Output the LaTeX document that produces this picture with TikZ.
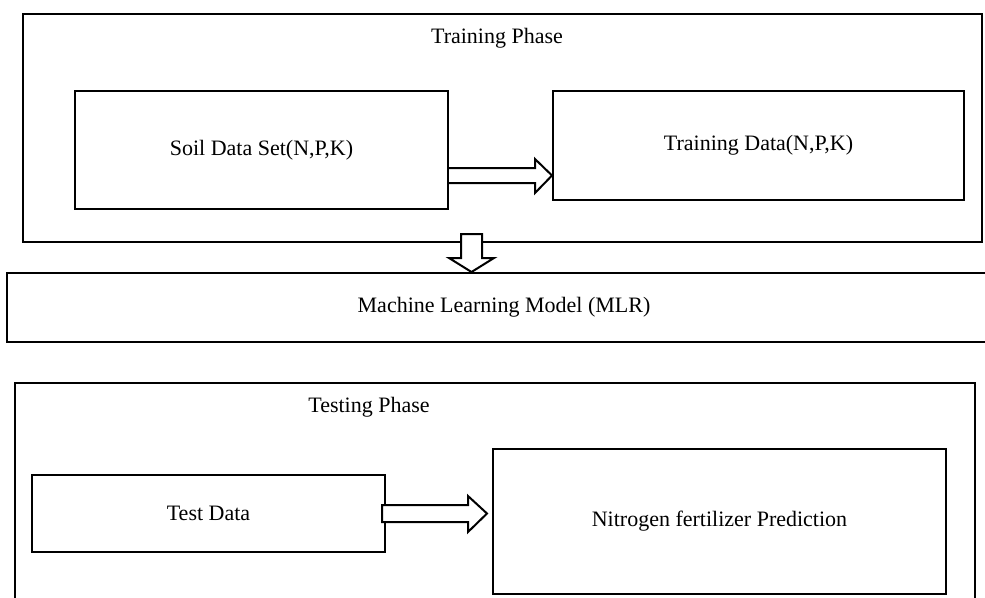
\documentclass[tikz,border=0pt]{standalone}
\usepackage{fontspec}
\setmainfont{Liberation Serif}
\usetikzlibrary{calc}
\begin{document}
\begin{tikzpicture}[x=1pt,y=-1pt,
  box/.style={draw=black, line width=2pt, rectangle, inner sep=0pt, anchor=north west,
              font=\fontsize{22}{26}\selectfont},
  label/.style={inner sep=0pt, font=\fontsize{22}{26}\selectfont},
  fat/.style={draw=black, line width=2pt, fill=white, line join=miter}]
\useasboundingbox (0,0) rectangle (985,597);
\clip (0,0) rectangle (985,597);

% Training phase
\node[box, minimum width=959pt, minimum height=228pt] (trainphase) at (22,13) {};
\node[label] (traintitle) at (497,38) {Training Phase};
\node[box, minimum width=373pt, minimum height=118pt] (soil) at (74,90) {Soil Data Set(N,P,K)};
\node[box, minimum width=411pt, minimum height=109pt] (train) at (552,90) {Training Data(N,P,K)};

% MLR
\node[box, minimum width=994pt, minimum height=69pt] (mlr) at (6,272) {Machine Learning Model (MLR)};

% Testing phase
\node[box, minimum width=960pt, minimum height=260pt] (testphase) at (14,382) {};
\node[label] (testtitle) at (369,407) {Testing Phase};
\node[box, minimum width=353pt, minimum height=77pt] (test) at (31,474) {Test Data};
\node[box, minimum width=453pt, minimum height=145pt] (nitro) at (492,448) {Nitrogen fertilizer Prediction};

% Arrow soil -> training
\coordinate (a1s) at (soil.east |- 0,175.5);
\coordinate (a1t) at (train.west |- 0,175.5);
\draw[fat] ($(a1s)+(0,-7.5)$) -- ($(a1t)+(-17,-7.5)$) -- ($(a1t)+(-17,-16.5)$) -- (a1t)
  -- ($(a1t)+(-17,17.5)$) -- ($(a1t)+(-17,7.5)$) -- ($(a1s)+(0,7.5)$);

% Arrow training phase -> MLR
\coordinate (a2t) at (471.5,0 |- mlr.north);
\coordinate (a2s) at (471.5,234);
\draw[fat] ($(a2s)+(-10.5,0)$) -- ($(a2s)+(10.5,0)$) -- ($(a2t)+(10.5,-14)$) -- ($(a2t)+(22.5,-14)$)
  -- (a2t) -- ($(a2t)+(-22.5,-14)$) -- ($(a2t)+(-10.5,-14)$) -- cycle;

% Arrow test -> nitrogen
\coordinate (a3s) at ($(test.east |- 0,513.5)+(-4,0)$);
\coordinate (a3t) at ($(nitro.west |- 0,513.5)+(-5,0)$);
\draw[fat] ($(a3s)+(0,-8.5)$) -- ($(a3t)+(-19,-8.5)$) -- ($(a3t)+(-19,-17.5)$) -- (a3t)
  -- ($(a3t)+(-19,18.5)$) -- ($(a3t)+(-19,8.5)$) -- ($(a3s)+(0,8.5)$) -- cycle;
\end{tikzpicture}
\end{document}
